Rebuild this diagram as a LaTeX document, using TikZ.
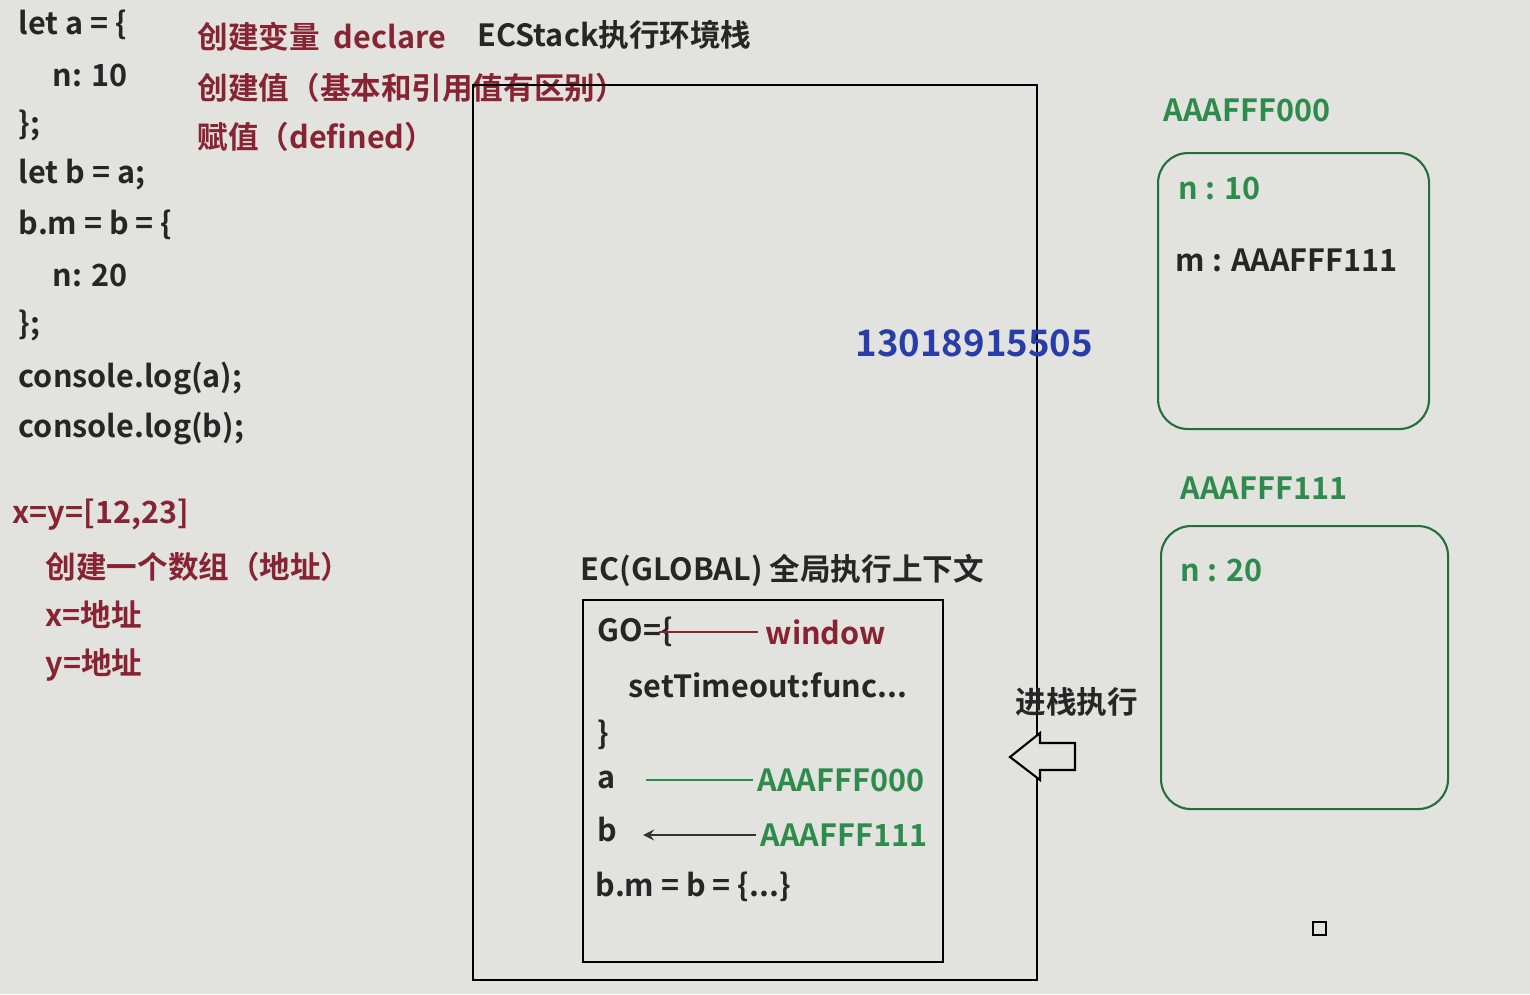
\documentclass[tikz,border=0pt]{standalone}
\usepackage{fontspec}
\setmainfont{Noto Sans CJK SC}[BoldFont={Noto Sans CJK SC Bold}]
\definecolor{bgc}{RGB}{226,226,222}
\definecolor{redtxt}{RGB}{135,35,50}
\definecolor{greentxt}{RGB}{45,140,75}
\definecolor{bluetxt}{RGB}{40,60,170}

\begin{document}
\begin{tikzpicture}[x=0.1mm,y=-0.1mm,
	code/.style={anchor=west,inner sep=0pt,font=\fontsize{8.7}{10}\selectfont\bfseries,text=black!85},
	note/.style={code,text=redtxt},
	addr/.style={code,text=greentxt},
	heapbox/.style={draw=greentxt!80!black,line width=0.6pt,rounded corners=3mm,anchor=north west,inner sep=0pt}]
			\fill[bgc] (0,0) rectangle (1530,994);
			
			% code on the left
			\node[code] (l1) at (18,25) {let a = \{};
			\node[code] (l2) at (52,75) {n: 10};
			\node[code] (l3) at (18,125) {\};};
			\node[code] (l4) at (18,175) {let b = a;};
			\node[code] (l5) at (18,225) {b.m = b = \{};
			\node[code] (l6) at (52,275) {n: 20};
			\node[code] (l7) at (18,325) {\};};
			\node[code] (l8) at (18,378) {console.log(a);};
			\node[code] (l9) at (18,428) {console.log(b);};
			
			\node[note] (x1) at (12,515) {x=y=[12,23]};
			\node[note] (x2) at (45,567) {创建一个数组（地址）};
			\node[note] (x3) at (45,615) {x=地址};
			\node[note] (x4) at (45,665) {y=地址};
			
			% steps
			\node[note] (s1) at (197,37) {创建变量\ \ declare};
			\node[note] (s2) at (197,88) {创建值（基本和引用值有区别）};
			\node[note] (s3) at (197,137) {赋值（defined）};
			
			% ECStack
			\node[code] (ecs) at (477,35) {ECStack执行环境栈};
			\draw[black,line width=0.6pt] (473,85) rectangle (1037,980);
			\node[code,text=bluetxt,font=\fontsize{10.4}{12}\selectfont\bfseries] (tel) at (855,343) {13018915505};
			
			% EC(G)
			\node[code] (ecg) at (580,570) {EC(GLOBAL)\ 全局执行上下文};
			\draw[black,line width=0.6pt] (583,600) rectangle (943,962);
			\node[code] (go) at (597,632) {GO=\{};
			\node[note] (win) at (765,632) {window};
			\node[code] (st) at (628,685) {setTimeout:func...};
			\node[code] (gc) at (597,735) {\}};
			\node[code] (va) at (597,780) {a};
			\node[addr] (a000) at (757,780) {AAAFFF000};
			\node[code] (vb) at (597,830) {b};
			\node[addr] (a111) at (760,835) {AAAFFF111};
			\node[code] (bm) at (595,887) {b.m = b = \{...\}};
			
			\draw[redtxt,thin] ([xshift=-4pt]go.east) -- ([xshift=-2pt]win.west);
			\draw[greentxt,thin,shorten <=3mm] (va.east) -- ([xshift=-1pt]va.east -| a000.west);
			\draw[black!80,thin,-stealth,shorten >=2.5mm] ([xshift=-1pt]a111.west) -- (a111.west -| vb.east);
			
			% push
			\node[code] (push) at (1015,702) {进栈执行};
			\draw[black,line width=0.6pt,fill=bgc] (1010,757) -- (1040,733) -- (1040,743) -- (1075,743)
				-- (1075,770) -- (1040,770) -- (1040,780) -- cycle;
			
			% heap
			\node[addr] (h0) at (1163,110) {AAAFFF000};
			\node[heapbox,minimum width=27.1mm,minimum height=27.6mm] (heap0) at (1157,152) {};
			\node[addr] (h0n) at (1178,188) {n : 10};
			\node[code] (h0m) at (1175,260) {m : AAAFFF111};
			
			\node[addr] (h1) at (1180,488) {AAAFFF111};
			\node[heapbox,minimum width=28.7mm,minimum height=28.3mm] (heap1) at (1160,525) {};
			\node[addr] (h1n) at (1180,570) {n : 20};
			
			\draw[black,line width=0.6pt] (1313,922) rectangle (1326,935);
\end{tikzpicture}
\end{document}
